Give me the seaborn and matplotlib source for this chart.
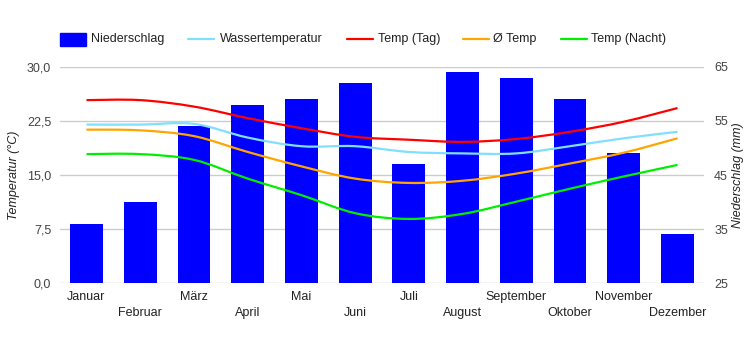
import numpy as np
import pandas as pd
import matplotlib
matplotlib.use('Agg')
import matplotlib.pyplot as plt
from matplotlib.path import Path
from matplotlib.patches import PathPatch, Rectangle
from matplotlib.lines import Line2D
import matplotlib.transforms as mtransforms
import seaborn as sns

# Monthly climate data
months = ['Januar', 'Februar', 'März', 'April', 'Mai', 'Juni', 'Juli',
          'August', 'September', 'Oktober', 'November', 'Dezember']
niederschlag = [36, 40, 54, 58, 59, 62, 47, 64, 63, 59, 49, 34]
wasser = [22.0, 22.0, 22.1, 20.2, 19.0, 19.0, 18.2, 18.0, 18.0, 19.0, 20.1, 21.0]
temp_tag = [25.4, 25.4, 24.5, 22.9, 21.5, 20.3, 19.9, 19.6, 20.0, 21.0, 22.4, 24.3]
temp_mittel = [21.3, 21.2, 20.4, 18.2, 16.2, 14.5, 13.9, 14.2, 15.2, 16.6, 18.1, 20.1]
temp_nacht = [17.9, 17.9, 17.1, 14.5, 12.2, 9.7, 8.9, 9.6, 11.3, 13.1, 14.8, 16.4]

temp_ticks = [0, 7.5, 15, 22.5, 30]
rain_ticks = [25, 35, 45, 55, 65]

series = [
    ('Wassertemperatur', wasser, '#80dfff'),
    ('Temp (Tag)', temp_tag, '#ff0000'),
    ('Ø Temp', temp_mittel, '#ffa500'),
    ('Temp (Nacht)', temp_nacht, '#00ee00'),
]

df = pd.DataFrame({'Monat': months, 'Niederschlag': niederschlag})

sns.set_style('white')
plt.rcParams['font.family'] = ['Liberation Sans', 'DejaVu Sans']
plt.rcParams['font.size'] = 9

fig = plt.figure(figsize=(7.5, 3.5), dpi=100)
ax = fig.add_axes([0.0795, 0.1914, 0.8597, 0.6172])
ax_t = ax.twinx()

# bars on the precipitation axis (right side labels)
sns.barplot(data=df, x='Monat', y='Niederschlag', color='#0000ff',
            saturation=1, width=0.61, ax=ax, zorder=2)
for p in ax.patches:
    p.set_edgecolor('none')
ax.set_ylim(25, 65)
ax.set_xlim(-0.5, 11.5)
ax.set_yticks(rain_ticks)
ax.set_yticklabels([str(v) for v in rain_ticks])
ax.yaxis.tick_right()
ax.grid(axis='y', color='#cccccc', linewidth=1)
ax.set_axisbelow(True)
ax.set_xlabel('')
ax.set_ylabel('')
ax.tick_params(axis='y', length=0, pad=7, colors='#444444', labelsize=9)
ax.set_xticks(range(12))
ax.set_xticklabels([])
ax.tick_params(axis='x', length=0)
for s in ax.spines.values():
    s.set_visible(False)

# month labels in two staggered rows
trans = mtransforms.blended_transform_factory(ax.transData, ax.transAxes)
for i, m in enumerate(months):
    off = -8 if i % 2 == 0 else -24
    ax.annotate(m, xy=(i, 0), xycoords=trans, xytext=(0, off),
                textcoords='offset pixels', ha='center', va='top',
                fontsize=9, color='#222222')

# temperature axis (left side)
ax_t.set_ylim(0, 30)
ax_t.yaxis.tick_left()
ax_t.set_yticks(temp_ticks)
ax_t.set_yticklabels([f'{v:.1f}'.replace('.', ',') for v in temp_ticks])
ax_t.tick_params(axis='y', length=0, pad=6, colors='#444444', labelsize=9)
ax_t.set_xlim(-0.5, 11.5)
for s in ax_t.spines.values():
    s.set_visible(False)


def smooth_path(xs, ys, s=1/6):
    pts = np.column_stack([xs, ys]).astype(float)
    n = len(pts)
    verts = [pts[0]]
    codes = [Path.MOVETO]
    for i in range(n - 1):
        p0 = pts[i - 1] if i > 0 else pts[i]
        p1 = pts[i]
        p2 = pts[i + 1]
        p3 = pts[i + 2] if i + 2 < n else pts[i + 1]
        c1 = p1 + (p2 - p0) * s
        c2 = p2 - (p3 - p1) * s
        verts += [c1, c2, p2]
        codes += [Path.CURVE4] * 3
    return Path(verts, codes)


xs = np.arange(len(months))
for name, vals, col in series:
    patch = PathPatch(smooth_path(xs, vals), facecolor='none', edgecolor=col,
                      linewidth=1.6, transform=ax_t.transData, zorder=3)
    ax_t.add_patch(patch)

# axis titles
fig.text(14 / 750, 1 - 175 / 350, 'Temperatur (°C)', rotation=90,
         ha='center', va='center', style='italic', fontsize=9, color='#222222')
fig.text(738 / 750, 1 - 175 / 350, 'Niederschlag (mm)', rotation=90,
         ha='center', va='center', style='italic', fontsize=9, color='#222222')

# legend
ly = 1 - 39 / 350
fig.add_artist(Rectangle((60 / 750, 1 - 46 / 350), 26 / 750, 13 / 350,
                         transform=fig.transFigure, color='#0000ff'))
fig.text(91 / 750, ly, 'Niederschlag', ha='left', va='center',
         fontsize=9, color='#222222')
leg_pos = [(188, 220), (347, 378), (463, 493), (561, 591)]
for (name, vals, col), (lx, tx) in zip(series, leg_pos):
    fig.add_artist(Line2D([lx / 750, (lx + 26) / 750], [ly, ly],
                          transform=fig.transFigure, color=col, linewidth=1.6))
    fig.text(tx / 750, ly, name, ha='left', va='center',
             fontsize=9, color='#222222')

fig.savefig('out.png', dpi=100)
